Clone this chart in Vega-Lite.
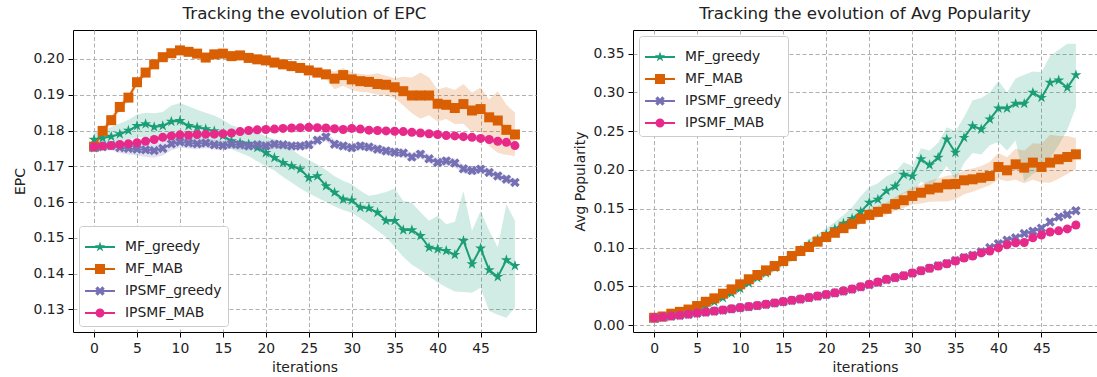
{
"$schema": "https://vega.github.io/schema/vega-lite/v6.json",
"padding": {"left": 12, "top": 5, "right": 1, "bottom": 2},
"config": {
  "font": "DejaVu Sans",
  "view": {"stroke": "black", "strokeWidth": 1},
  "axis": {"grid": true, "gridColor": "#b0b0b0", "gridDash": [4, 2.5], "gridWidth": 1, "domain": false, "tickColor": "black", "tickSize": 5, "tickWidth": 1, "labelFontSize": 13.9, "labelColor": "#222", "titleFontSize": 13.9, "titleFontWeight": "normal", "titleColor": "#222", "labelPadding": 4, "titlePadding": 6, "labelFont": "DejaVu Sans", "titleFont": "DejaVu Sans", "labelOverlap": false},
  "title": {"fontSize": 16.7, "fontWeight": "normal", "font": "DejaVu Sans", "color": "#222", "offset": 7},
  "legend": {"title": null, "offset": 6, "fillColor": "white", "strokeColor": "#cccccc", "cornerRadius": 3, "padding": 6, "rowPadding": 0, "labelFontSize": 13.9, "labelColor": "#222", "labelOffset": 10, "symbolSize": 900, "symbolStrokeWidth": 0, "symbolOpacity": 1, "labelFont": "DejaVu Sans"}
},
"datasets": {
"epc": [
{"s":"MF_greedy","i":0,"m":0.1775,"lo":0.1755,"hi":0.1795},
{"s":"MF_greedy","i":1,"m":0.1779,"lo":0.1763,"hi":0.18},
{"s":"MF_greedy","i":2,"m":0.1783,"lo":0.1766,"hi":0.181},
{"s":"MF_greedy","i":3,"m":0.179,"lo":0.177,"hi":0.182},
{"s":"MF_greedy","i":4,"m":0.18,"lo":0.1774,"hi":0.183},
{"s":"MF_greedy","i":5,"m":0.1813,"lo":0.178,"hi":0.1845},
{"s":"MF_greedy","i":6,"m":0.1818,"lo":0.1782,"hi":0.185},
{"s":"MF_greedy","i":7,"m":0.181,"lo":0.1778,"hi":0.1848},
{"s":"MF_greedy","i":8,"m":0.1813,"lo":0.1778,"hi":0.1852},
{"s":"MF_greedy","i":9,"m":0.1825,"lo":0.1776,"hi":0.187},
{"s":"MF_greedy","i":10,"m":0.1827,"lo":0.1774,"hi":0.1877},
{"s":"MF_greedy","i":11,"m":0.1813,"lo":0.177,"hi":0.1868},
{"s":"MF_greedy","i":12,"m":0.1809,"lo":0.1766,"hi":0.1858},
{"s":"MF_greedy","i":13,"m":0.1804,"lo":0.1765,"hi":0.185},
{"s":"MF_greedy","i":14,"m":0.1799,"lo":0.1764,"hi":0.1842},
{"s":"MF_greedy","i":15,"m":0.1785,"lo":0.1758,"hi":0.183},
{"s":"MF_greedy","i":16,"m":0.1771,"lo":0.1748,"hi":0.1815},
{"s":"MF_greedy","i":17,"m":0.1766,"lo":0.1738,"hi":0.1808},
{"s":"MF_greedy","i":18,"m":0.1762,"lo":0.1728,"hi":0.18},
{"s":"MF_greedy","i":19,"m":0.1752,"lo":0.1714,"hi":0.1793},
{"s":"MF_greedy","i":20,"m":0.1738,"lo":0.17,"hi":0.1785},
{"s":"MF_greedy","i":21,"m":0.1724,"lo":0.1688,"hi":0.1775},
{"s":"MF_greedy","i":22,"m":0.171,"lo":0.167,"hi":0.176},
{"s":"MF_greedy","i":23,"m":0.1701,"lo":0.1655,"hi":0.1748},
{"s":"MF_greedy","i":24,"m":0.1692,"lo":0.1638,"hi":0.173},
{"s":"MF_greedy","i":25,"m":0.1668,"lo":0.1625,"hi":0.1718},
{"s":"MF_greedy","i":26,"m":0.1673,"lo":0.1612,"hi":0.1705},
{"s":"MF_greedy","i":27,"m":0.1645,"lo":0.16,"hi":0.169},
{"s":"MF_greedy","i":28,"m":0.1627,"lo":0.1588,"hi":0.1672},
{"s":"MF_greedy","i":29,"m":0.1608,"lo":0.1578,"hi":0.166},
{"s":"MF_greedy","i":30,"m":0.1605,"lo":0.157,"hi":0.165},
{"s":"MF_greedy","i":31,"m":0.1585,"lo":0.1555,"hi":0.1632},
{"s":"MF_greedy","i":32,"m":0.1583,"lo":0.1538,"hi":0.1618},
{"s":"MF_greedy","i":33,"m":0.1571,"lo":0.152,"hi":0.1622},
{"s":"MF_greedy","i":34,"m":0.1548,"lo":0.1502,"hi":0.1628},
{"s":"MF_greedy","i":35,"m":0.1548,"lo":0.1475,"hi":0.1638},
{"s":"MF_greedy","i":36,"m":0.1522,"lo":0.1447,"hi":0.1603},
{"s":"MF_greedy","i":37,"m":0.1522,"lo":0.1425,"hi":0.1598},
{"s":"MF_greedy","i":38,"m":0.1506,"lo":0.141,"hi":0.1572},
{"s":"MF_greedy","i":39,"m":0.1473,"lo":0.1392,"hi":0.1548},
{"s":"MF_greedy","i":40,"m":0.1469,"lo":0.1375,"hi":0.1562},
{"s":"MF_greedy","i":41,"m":0.1464,"lo":0.1362,"hi":0.1538},
{"s":"MF_greedy","i":42,"m":0.1453,"lo":0.135,"hi":0.1545},
{"s":"MF_greedy","i":43,"m":0.1492,"lo":0.1349,"hi":0.1631},
{"s":"MF_greedy","i":44,"m":0.1427,"lo":0.1347,"hi":0.152},
{"s":"MF_greedy","i":45,"m":0.1471,"lo":0.1361,"hi":0.1575},
{"s":"MF_greedy","i":46,"m":0.141,"lo":0.1296,"hi":0.152},
{"s":"MF_greedy","i":47,"m":0.1391,"lo":0.1285,"hi":0.1474},
{"s":"MF_greedy","i":48,"m":0.1438,"lo":0.1277,"hi":0.1594},
{"s":"MF_greedy","i":49,"m":0.1422,"lo":0.1305,"hi":0.1548},
{"s":"MF_MAB","i":0,"m":0.1755,"lo":0.1745,"hi":0.1765},
{"s":"MF_MAB","i":1,"m":0.1799,"lo":0.1789,"hi":0.1809},
{"s":"MF_MAB","i":2,"m":0.1829,"lo":0.1819,"hi":0.1839},
{"s":"MF_MAB","i":3,"m":0.1866,"lo":0.1856,"hi":0.1876},
{"s":"MF_MAB","i":4,"m":0.1892,"lo":0.1882,"hi":0.1902},
{"s":"MF_MAB","i":5,"m":0.1935,"lo":0.1925,"hi":0.1945},
{"s":"MF_MAB","i":6,"m":0.1962,"lo":0.1952,"hi":0.1972},
{"s":"MF_MAB","i":7,"m":0.1985,"lo":0.1976,"hi":0.1994},
{"s":"MF_MAB","i":8,"m":0.2005,"lo":0.1997,"hi":0.2013},
{"s":"MF_MAB","i":9,"m":0.2016,"lo":0.2008,"hi":0.2024},
{"s":"MF_MAB","i":10,"m":0.2024,"lo":0.2016,"hi":0.2034},
{"s":"MF_MAB","i":11,"m":0.202,"lo":0.2012,"hi":0.2028},
{"s":"MF_MAB","i":12,"m":0.2015,"lo":0.2007,"hi":0.2023},
{"s":"MF_MAB","i":13,"m":0.2004,"lo":0.1996,"hi":0.2012},
{"s":"MF_MAB","i":14,"m":0.2013,"lo":0.2005,"hi":0.2021},
{"s":"MF_MAB","i":15,"m":0.2015,"lo":0.2007,"hi":0.2023},
{"s":"MF_MAB","i":16,"m":0.2008,"lo":0.2,"hi":0.2016},
{"s":"MF_MAB","i":17,"m":0.201,"lo":0.2002,"hi":0.2018},
{"s":"MF_MAB","i":18,"m":0.2003,"lo":0.1995,"hi":0.2011},
{"s":"MF_MAB","i":19,"m":0.1999,"lo":0.1991,"hi":0.2007},
{"s":"MF_MAB","i":20,"m":0.1996,"lo":0.1984,"hi":0.2008},
{"s":"MF_MAB","i":21,"m":0.199,"lo":0.1978,"hi":0.2002},
{"s":"MF_MAB","i":22,"m":0.1985,"lo":0.1973,"hi":0.1997},
{"s":"MF_MAB","i":23,"m":0.198,"lo":0.1968,"hi":0.1992},
{"s":"MF_MAB","i":24,"m":0.1975,"lo":0.1963,"hi":0.1987},
{"s":"MF_MAB","i":25,"m":0.1968,"lo":0.1956,"hi":0.198},
{"s":"MF_MAB","i":26,"m":0.1962,"lo":0.195,"hi":0.1974},
{"s":"MF_MAB","i":27,"m":0.1957,"lo":0.1945,"hi":0.1969},
{"s":"MF_MAB","i":28,"m":0.1945,"lo":0.1915,"hi":0.1965},
{"s":"MF_MAB","i":29,"m":0.1955,"lo":0.1925,"hi":0.1975},
{"s":"MF_MAB","i":30,"m":0.1943,"lo":0.1913,"hi":0.1963},
{"s":"MF_MAB","i":31,"m":0.1938,"lo":0.1908,"hi":0.1958},
{"s":"MF_MAB","i":32,"m":0.1936,"lo":0.1906,"hi":0.1956},
{"s":"MF_MAB","i":33,"m":0.193,"lo":0.19,"hi":0.196},
{"s":"MF_MAB","i":34,"m":0.1928,"lo":0.1898,"hi":0.1953},
{"s":"MF_MAB","i":35,"m":0.1921,"lo":0.1891,"hi":0.1946},
{"s":"MF_MAB","i":36,"m":0.191,"lo":0.187,"hi":0.195},
{"s":"MF_MAB","i":37,"m":0.1898,"lo":0.1848,"hi":0.1948},
{"s":"MF_MAB","i":38,"m":0.1898,"lo":0.1833,"hi":0.1962},
{"s":"MF_MAB","i":39,"m":0.1898,"lo":0.1843,"hi":0.1948},
{"s":"MF_MAB","i":40,"m":0.1875,"lo":0.1825,"hi":0.1915},
{"s":"MF_MAB","i":41,"m":0.1872,"lo":0.1832,"hi":0.1922},
{"s":"MF_MAB","i":42,"m":0.1863,"lo":0.1818,"hi":0.1913},
{"s":"MF_MAB","i":43,"m":0.1874,"lo":0.1819,"hi":0.193},
{"s":"MF_MAB","i":44,"m":0.1856,"lo":0.1796,"hi":0.1906},
{"s":"MF_MAB","i":45,"m":0.186,"lo":0.1795,"hi":0.192},
{"s":"MF_MAB","i":46,"m":0.1837,"lo":0.1757,"hi":0.1887},
{"s":"MF_MAB","i":47,"m":0.1828,"lo":0.1738,"hi":0.191},
{"s":"MF_MAB","i":48,"m":0.1802,"lo":0.1732,"hi":0.1872},
{"s":"MF_MAB","i":49,"m":0.1789,"lo":0.1729,"hi":0.185},
{"s":"IPSMF_greedy","i":0,"m":0.1752,"lo":0.1742,"hi":0.1762},
{"s":"IPSMF_greedy","i":1,"m":0.1755,"lo":0.1743,"hi":0.1767},
{"s":"IPSMF_greedy","i":2,"m":0.1758,"lo":0.1745,"hi":0.1771},
{"s":"IPSMF_greedy","i":3,"m":0.1752,"lo":0.1737,"hi":0.1767},
{"s":"IPSMF_greedy","i":4,"m":0.175,"lo":0.1733,"hi":0.1767},
{"s":"IPSMF_greedy","i":5,"m":0.1748,"lo":0.173,"hi":0.1766},
{"s":"IPSMF_greedy","i":6,"m":0.1746,"lo":0.1726,"hi":0.1766},
{"s":"IPSMF_greedy","i":7,"m":0.1744,"lo":0.1724,"hi":0.1764},
{"s":"IPSMF_greedy","i":8,"m":0.175,"lo":0.173,"hi":0.177},
{"s":"IPSMF_greedy","i":9,"m":0.1763,"lo":0.1745,"hi":0.1781},
{"s":"IPSMF_greedy","i":10,"m":0.1768,"lo":0.1752,"hi":0.1784},
{"s":"IPSMF_greedy","i":11,"m":0.1765,"lo":0.175,"hi":0.178},
{"s":"IPSMF_greedy","i":12,"m":0.1763,"lo":0.1748,"hi":0.1778},
{"s":"IPSMF_greedy","i":13,"m":0.1765,"lo":0.1751,"hi":0.1779},
{"s":"IPSMF_greedy","i":14,"m":0.176,"lo":0.1746,"hi":0.1774},
{"s":"IPSMF_greedy","i":15,"m":0.1758,"lo":0.1745,"hi":0.1771},
{"s":"IPSMF_greedy","i":16,"m":0.1762,"lo":0.1749,"hi":0.1775},
{"s":"IPSMF_greedy","i":17,"m":0.176,"lo":0.1747,"hi":0.1773},
{"s":"IPSMF_greedy","i":18,"m":0.1757,"lo":0.1745,"hi":0.1769},
{"s":"IPSMF_greedy","i":19,"m":0.176,"lo":0.1748,"hi":0.1772},
{"s":"IPSMF_greedy","i":20,"m":0.1757,"lo":0.1745,"hi":0.1769},
{"s":"IPSMF_greedy","i":21,"m":0.1762,"lo":0.175,"hi":0.1774},
{"s":"IPSMF_greedy","i":22,"m":0.176,"lo":0.1748,"hi":0.1772},
{"s":"IPSMF_greedy","i":23,"m":0.1757,"lo":0.1745,"hi":0.1769},
{"s":"IPSMF_greedy","i":24,"m":0.1757,"lo":0.1745,"hi":0.1769},
{"s":"IPSMF_greedy","i":25,"m":0.176,"lo":0.1748,"hi":0.1772},
{"s":"IPSMF_greedy","i":26,"m":0.1773,"lo":0.1761,"hi":0.1785},
{"s":"IPSMF_greedy","i":27,"m":0.1782,"lo":0.177,"hi":0.1794},
{"s":"IPSMF_greedy","i":28,"m":0.1762,"lo":0.175,"hi":0.1774},
{"s":"IPSMF_greedy","i":29,"m":0.1757,"lo":0.1745,"hi":0.1769},
{"s":"IPSMF_greedy","i":30,"m":0.1752,"lo":0.174,"hi":0.1764},
{"s":"IPSMF_greedy","i":31,"m":0.1757,"lo":0.1745,"hi":0.1769},
{"s":"IPSMF_greedy","i":32,"m":0.1754,"lo":0.1742,"hi":0.1766},
{"s":"IPSMF_greedy","i":33,"m":0.1748,"lo":0.1736,"hi":0.176},
{"s":"IPSMF_greedy","i":34,"m":0.1743,"lo":0.1731,"hi":0.1755},
{"s":"IPSMF_greedy","i":35,"m":0.1739,"lo":0.1727,"hi":0.1751},
{"s":"IPSMF_greedy","i":36,"m":0.1737,"lo":0.1725,"hi":0.1749},
{"s":"IPSMF_greedy","i":37,"m":0.1726,"lo":0.1714,"hi":0.1738},
{"s":"IPSMF_greedy","i":38,"m":0.1734,"lo":0.1722,"hi":0.1746},
{"s":"IPSMF_greedy","i":39,"m":0.1721,"lo":0.1709,"hi":0.1733},
{"s":"IPSMF_greedy","i":40,"m":0.1711,"lo":0.1699,"hi":0.1723},
{"s":"IPSMF_greedy","i":41,"m":0.1715,"lo":0.1703,"hi":0.1727},
{"s":"IPSMF_greedy","i":42,"m":0.1709,"lo":0.1697,"hi":0.1721},
{"s":"IPSMF_greedy","i":43,"m":0.1693,"lo":0.1681,"hi":0.1705},
{"s":"IPSMF_greedy","i":44,"m":0.1688,"lo":0.1676,"hi":0.17},
{"s":"IPSMF_greedy","i":45,"m":0.1692,"lo":0.168,"hi":0.1704},
{"s":"IPSMF_greedy","i":46,"m":0.1683,"lo":0.1672,"hi":0.1694},
{"s":"IPSMF_greedy","i":47,"m":0.1673,"lo":0.1662,"hi":0.1684},
{"s":"IPSMF_greedy","i":48,"m":0.1664,"lo":0.1653,"hi":0.1675},
{"s":"IPSMF_greedy","i":49,"m":0.1655,"lo":0.1644,"hi":0.1666},
{"s":"IPSMF_MAB","i":0,"m":0.1755,"lo":0.1748,"hi":0.1762},
{"s":"IPSMF_MAB","i":1,"m":0.1757,"lo":0.175,"hi":0.1764},
{"s":"IPSMF_MAB","i":2,"m":0.1758,"lo":0.1751,"hi":0.1765},
{"s":"IPSMF_MAB","i":3,"m":0.1761,"lo":0.1754,"hi":0.1768},
{"s":"IPSMF_MAB","i":4,"m":0.1763,"lo":0.1756,"hi":0.177},
{"s":"IPSMF_MAB","i":5,"m":0.1766,"lo":0.1759,"hi":0.1773},
{"s":"IPSMF_MAB","i":6,"m":0.177,"lo":0.1763,"hi":0.1777},
{"s":"IPSMF_MAB","i":7,"m":0.1775,"lo":0.1768,"hi":0.1782},
{"s":"IPSMF_MAB","i":8,"m":0.1781,"lo":0.1774,"hi":0.1788},
{"s":"IPSMF_MAB","i":9,"m":0.1785,"lo":0.1778,"hi":0.1792},
{"s":"IPSMF_MAB","i":10,"m":0.1788,"lo":0.1781,"hi":0.1795},
{"s":"IPSMF_MAB","i":11,"m":0.1787,"lo":0.178,"hi":0.1794},
{"s":"IPSMF_MAB","i":12,"m":0.1789,"lo":0.1782,"hi":0.1796},
{"s":"IPSMF_MAB","i":13,"m":0.179,"lo":0.1783,"hi":0.1797},
{"s":"IPSMF_MAB","i":14,"m":0.179,"lo":0.1783,"hi":0.1797},
{"s":"IPSMF_MAB","i":15,"m":0.1791,"lo":0.1784,"hi":0.1798},
{"s":"IPSMF_MAB","i":16,"m":0.1793,"lo":0.1786,"hi":0.18},
{"s":"IPSMF_MAB","i":17,"m":0.1797,"lo":0.179,"hi":0.1804},
{"s":"IPSMF_MAB","i":18,"m":0.18,"lo":0.1793,"hi":0.1807},
{"s":"IPSMF_MAB","i":19,"m":0.1802,"lo":0.1795,"hi":0.1809},
{"s":"IPSMF_MAB","i":20,"m":0.1803,"lo":0.1796,"hi":0.181},
{"s":"IPSMF_MAB","i":21,"m":0.1804,"lo":0.1797,"hi":0.1811},
{"s":"IPSMF_MAB","i":22,"m":0.1806,"lo":0.1799,"hi":0.1813},
{"s":"IPSMF_MAB","i":23,"m":0.1807,"lo":0.18,"hi":0.1814},
{"s":"IPSMF_MAB","i":24,"m":0.1808,"lo":0.1801,"hi":0.1815},
{"s":"IPSMF_MAB","i":25,"m":0.1809,"lo":0.1802,"hi":0.1816},
{"s":"IPSMF_MAB","i":26,"m":0.1808,"lo":0.1801,"hi":0.1815},
{"s":"IPSMF_MAB","i":27,"m":0.1807,"lo":0.18,"hi":0.1814},
{"s":"IPSMF_MAB","i":28,"m":0.1805,"lo":0.1798,"hi":0.1812},
{"s":"IPSMF_MAB","i":29,"m":0.1803,"lo":0.1796,"hi":0.181},
{"s":"IPSMF_MAB","i":30,"m":0.1806,"lo":0.1799,"hi":0.1813},
{"s":"IPSMF_MAB","i":31,"m":0.1804,"lo":0.1797,"hi":0.1811},
{"s":"IPSMF_MAB","i":32,"m":0.1801,"lo":0.1794,"hi":0.1808},
{"s":"IPSMF_MAB","i":33,"m":0.18,"lo":0.1793,"hi":0.1807},
{"s":"IPSMF_MAB","i":34,"m":0.1799,"lo":0.1792,"hi":0.1806},
{"s":"IPSMF_MAB","i":35,"m":0.1798,"lo":0.1791,"hi":0.1805},
{"s":"IPSMF_MAB","i":36,"m":0.1797,"lo":0.179,"hi":0.1804},
{"s":"IPSMF_MAB","i":37,"m":0.1795,"lo":0.1788,"hi":0.1802},
{"s":"IPSMF_MAB","i":38,"m":0.1793,"lo":0.1786,"hi":0.18},
{"s":"IPSMF_MAB","i":39,"m":0.1791,"lo":0.1784,"hi":0.1798},
{"s":"IPSMF_MAB","i":40,"m":0.1789,"lo":0.1782,"hi":0.1796},
{"s":"IPSMF_MAB","i":41,"m":0.1786,"lo":0.1779,"hi":0.1793},
{"s":"IPSMF_MAB","i":42,"m":0.1785,"lo":0.1778,"hi":0.1792},
{"s":"IPSMF_MAB","i":43,"m":0.1783,"lo":0.1776,"hi":0.179},
{"s":"IPSMF_MAB","i":44,"m":0.1781,"lo":0.1774,"hi":0.1788},
{"s":"IPSMF_MAB","i":45,"m":0.1778,"lo":0.1771,"hi":0.1785},
{"s":"IPSMF_MAB","i":46,"m":0.1775,"lo":0.1768,"hi":0.1782},
{"s":"IPSMF_MAB","i":47,"m":0.177,"lo":0.1763,"hi":0.1777},
{"s":"IPSMF_MAB","i":48,"m":0.1767,"lo":0.176,"hi":0.1774},
{"s":"IPSMF_MAB","i":49,"m":0.1758,"lo":0.1751,"hi":0.1765}
],
"pop": [
{"s":"MF_greedy","i":0,"m":0.0094,"lo":0.0088,"hi":0.01},
{"s":"MF_greedy","i":1,"m":0.0105,"lo":0.0098,"hi":0.0112},
{"s":"MF_greedy","i":2,"m":0.0125,"lo":0.0116,"hi":0.0134},
{"s":"MF_greedy","i":3,"m":0.015,"lo":0.0138,"hi":0.0162},
{"s":"MF_greedy","i":4,"m":0.0175,"lo":0.0161,"hi":0.0189},
{"s":"MF_greedy","i":5,"m":0.021,"lo":0.0193,"hi":0.0227},
{"s":"MF_greedy","i":6,"m":0.025,"lo":0.023,"hi":0.027},
{"s":"MF_greedy","i":7,"m":0.03,"lo":0.0277,"hi":0.0323},
{"s":"MF_greedy","i":8,"m":0.035,"lo":0.0325,"hi":0.0375},
{"s":"MF_greedy","i":9,"m":0.041,"lo":0.038,"hi":0.044},
{"s":"MF_greedy","i":10,"m":0.047,"lo":0.0435,"hi":0.0505},
{"s":"MF_greedy","i":11,"m":0.054,"lo":0.0502,"hi":0.0578},
{"s":"MF_greedy","i":12,"m":0.061,"lo":0.0568,"hi":0.0652},
{"s":"MF_greedy","i":13,"m":0.067,"lo":0.0625,"hi":0.0715},
{"s":"MF_greedy","i":14,"m":0.074,"lo":0.069,"hi":0.079},
{"s":"MF_greedy","i":15,"m":0.081,"lo":0.0755,"hi":0.0865},
{"s":"MF_greedy","i":16,"m":0.088,"lo":0.082,"hi":0.094},
{"s":"MF_greedy","i":17,"m":0.096,"lo":0.0895,"hi":0.1025},
{"s":"MF_greedy","i":18,"m":0.104,"lo":0.097,"hi":0.111},
{"s":"MF_greedy","i":19,"m":0.11,"lo":0.103,"hi":0.1175},
{"s":"MF_greedy","i":20,"m":0.117,"lo":0.11,"hi":0.125},
{"s":"MF_greedy","i":21,"m":0.124,"lo":0.116,"hi":0.133},
{"s":"MF_greedy","i":22,"m":0.131,"lo":0.12,"hi":0.142},
{"s":"MF_greedy","i":23,"m":0.137,"lo":0.124,"hi":0.152},
{"s":"MF_greedy","i":24,"m":0.146,"lo":0.131,"hi":0.166},
{"s":"MF_greedy","i":25,"m":0.158,"lo":0.14,"hi":0.178},
{"s":"MF_greedy","i":26,"m":0.162,"lo":0.146,"hi":0.183},
{"s":"MF_greedy","i":27,"m":0.173,"lo":0.152,"hi":0.192},
{"s":"MF_greedy","i":28,"m":0.179,"lo":0.158,"hi":0.197},
{"s":"MF_greedy","i":29,"m":0.194,"lo":0.17,"hi":0.21},
{"s":"MF_greedy","i":30,"m":0.192,"lo":0.169,"hi":0.205},
{"s":"MF_greedy","i":31,"m":0.214,"lo":0.185,"hi":0.228},
{"s":"MF_greedy","i":32,"m":0.2065,"lo":0.178,"hi":0.225},
{"s":"MF_greedy","i":33,"m":0.216,"lo":0.19,"hi":0.235},
{"s":"MF_greedy","i":34,"m":0.2396,"lo":0.205,"hi":0.255},
{"s":"MF_greedy","i":35,"m":0.2224,"lo":0.186,"hi":0.25},
{"s":"MF_greedy","i":36,"m":0.2417,"lo":0.209,"hi":0.268},
{"s":"MF_greedy","i":37,"m":0.2568,"lo":0.222,"hi":0.29},
{"s":"MF_greedy","i":38,"m":0.2525,"lo":0.22,"hi":0.293},
{"s":"MF_greedy","i":39,"m":0.2654,"lo":0.232,"hi":0.3},
{"s":"MF_greedy","i":40,"m":0.2796,"lo":0.236,"hi":0.315},
{"s":"MF_greedy","i":41,"m":0.2796,"lo":0.225,"hi":0.3},
{"s":"MF_greedy","i":42,"m":0.2856,"lo":0.238,"hi":0.318},
{"s":"MF_greedy","i":43,"m":0.2856,"lo":0.185,"hi":0.323},
{"s":"MF_greedy","i":44,"m":0.2998,"lo":0.195,"hi":0.327},
{"s":"MF_greedy","i":45,"m":0.2933,"lo":0.2,"hi":0.326},
{"s":"MF_greedy","i":46,"m":0.3127,"lo":0.215,"hi":0.347},
{"s":"MF_greedy","i":47,"m":0.3157,"lo":0.232,"hi":0.355},
{"s":"MF_greedy","i":48,"m":0.3062,"lo":0.252,"hi":0.363},
{"s":"MF_greedy","i":49,"m":0.3226,"lo":0.281,"hi":0.363},
{"s":"MF_MAB","i":0,"m":0.0094,"lo":0.0088,"hi":0.01},
{"s":"MF_MAB","i":1,"m":0.011,"lo":0.0102,"hi":0.0118},
{"s":"MF_MAB","i":2,"m":0.0146,"lo":0.0136,"hi":0.0156},
{"s":"MF_MAB","i":3,"m":0.017,"lo":0.016,"hi":0.018},
{"s":"MF_MAB","i":4,"m":0.02,"lo":0.0188,"hi":0.0212},
{"s":"MF_MAB","i":5,"m":0.0245,"lo":0.0231,"hi":0.0259},
{"s":"MF_MAB","i":6,"m":0.03,"lo":0.0284,"hi":0.0316},
{"s":"MF_MAB","i":7,"m":0.0344,"lo":0.0326,"hi":0.0362},
{"s":"MF_MAB","i":8,"m":0.0404,"lo":0.0384,"hi":0.0424},
{"s":"MF_MAB","i":9,"m":0.046,"lo":0.0438,"hi":0.0482},
{"s":"MF_MAB","i":10,"m":0.0525,"lo":0.0501,"hi":0.0549},
{"s":"MF_MAB","i":11,"m":0.059,"lo":0.0564,"hi":0.0616},
{"s":"MF_MAB","i":12,"m":0.0645,"lo":0.0617,"hi":0.0673},
{"s":"MF_MAB","i":13,"m":0.0705,"lo":0.0675,"hi":0.0735},
{"s":"MF_MAB","i":14,"m":0.0761,"lo":0.0731,"hi":0.0791},
{"s":"MF_MAB","i":15,"m":0.0826,"lo":0.0794,"hi":0.0858},
{"s":"MF_MAB","i":16,"m":0.089,"lo":0.0856,"hi":0.0924},
{"s":"MF_MAB","i":17,"m":0.0955,"lo":0.0919,"hi":0.0991},
{"s":"MF_MAB","i":18,"m":0.1006,"lo":0.0966,"hi":0.1046},
{"s":"MF_MAB","i":19,"m":0.1075,"lo":0.1033,"hi":0.1117},
{"s":"MF_MAB","i":20,"m":0.1135,"lo":0.109,"hi":0.118},
{"s":"MF_MAB","i":21,"m":0.119,"lo":0.114,"hi":0.124},
{"s":"MF_MAB","i":22,"m":0.125,"lo":0.1195,"hi":0.1305},
{"s":"MF_MAB","i":23,"m":0.1305,"lo":0.1245,"hi":0.1365},
{"s":"MF_MAB","i":24,"m":0.137,"lo":0.1305,"hi":0.1435},
{"s":"MF_MAB","i":25,"m":0.142,"lo":0.135,"hi":0.149},
{"s":"MF_MAB","i":26,"m":0.146,"lo":0.1385,"hi":0.1535},
{"s":"MF_MAB","i":27,"m":0.15,"lo":0.142,"hi":0.158},
{"s":"MF_MAB","i":28,"m":0.156,"lo":0.147,"hi":0.165},
{"s":"MF_MAB","i":29,"m":0.161,"lo":0.151,"hi":0.171},
{"s":"MF_MAB","i":30,"m":0.1665,"lo":0.1555,"hi":0.1775},
{"s":"MF_MAB","i":31,"m":0.1707,"lo":0.1567,"hi":0.1807},
{"s":"MF_MAB","i":32,"m":0.175,"lo":0.159,"hi":0.186},
{"s":"MF_MAB","i":33,"m":0.1772,"lo":0.1592,"hi":0.1892},
{"s":"MF_MAB","i":34,"m":0.1815,"lo":0.1595,"hi":0.1925},
{"s":"MF_MAB","i":35,"m":0.182,"lo":0.162,"hi":0.194},
{"s":"MF_MAB","i":36,"m":0.1867,"lo":0.1687,"hi":0.1997},
{"s":"MF_MAB","i":37,"m":0.188,"lo":0.172,"hi":0.202},
{"s":"MF_MAB","i":38,"m":0.19,"lo":0.176,"hi":0.205},
{"s":"MF_MAB","i":39,"m":0.1922,"lo":0.1802,"hi":0.2102},
{"s":"MF_MAB","i":40,"m":0.2039,"lo":0.1879,"hi":0.2219},
{"s":"MF_MAB","i":41,"m":0.1996,"lo":0.1856,"hi":0.2166},
{"s":"MF_MAB","i":42,"m":0.2073,"lo":0.1873,"hi":0.2273},
{"s":"MF_MAB","i":43,"m":0.203,"lo":0.183,"hi":0.225},
{"s":"MF_MAB","i":44,"m":0.2095,"lo":0.1875,"hi":0.2345},
{"s":"MF_MAB","i":45,"m":0.2039,"lo":0.1839,"hi":0.2339},
{"s":"MF_MAB","i":46,"m":0.2095,"lo":0.1835,"hi":0.2455},
{"s":"MF_MAB","i":47,"m":0.2138,"lo":0.1888,"hi":0.2438},
{"s":"MF_MAB","i":48,"m":0.2168,"lo":0.1948,"hi":0.2438},
{"s":"MF_MAB","i":49,"m":0.2202,"lo":0.2012,"hi":0.2412},
{"s":"IPSMF_greedy","i":0,"m":0.009,"lo":0.0084,"hi":0.0096},
{"s":"IPSMF_greedy","i":1,"m":0.01,"lo":0.0093,"hi":0.0107},
{"s":"IPSMF_greedy","i":2,"m":0.0112,"lo":0.0105,"hi":0.0119},
{"s":"IPSMF_greedy","i":3,"m":0.0124,"lo":0.0116,"hi":0.0132},
{"s":"IPSMF_greedy","i":4,"m":0.0137,"lo":0.0129,"hi":0.0145},
{"s":"IPSMF_greedy","i":5,"m":0.0152,"lo":0.0143,"hi":0.0161},
{"s":"IPSMF_greedy","i":6,"m":0.0165,"lo":0.0156,"hi":0.0174},
{"s":"IPSMF_greedy","i":7,"m":0.0178,"lo":0.0169,"hi":0.0187},
{"s":"IPSMF_greedy","i":8,"m":0.0192,"lo":0.0183,"hi":0.0201},
{"s":"IPSMF_greedy","i":9,"m":0.0207,"lo":0.0197,"hi":0.0217},
{"s":"IPSMF_greedy","i":10,"m":0.0222,"lo":0.0212,"hi":0.0232},
{"s":"IPSMF_greedy","i":11,"m":0.0236,"lo":0.0226,"hi":0.0246},
{"s":"IPSMF_greedy","i":12,"m":0.025,"lo":0.024,"hi":0.026},
{"s":"IPSMF_greedy","i":13,"m":0.0266,"lo":0.0256,"hi":0.0276},
{"s":"IPSMF_greedy","i":14,"m":0.0283,"lo":0.0273,"hi":0.0293},
{"s":"IPSMF_greedy","i":15,"m":0.03,"lo":0.029,"hi":0.031},
{"s":"IPSMF_greedy","i":16,"m":0.0316,"lo":0.0305,"hi":0.0327},
{"s":"IPSMF_greedy","i":17,"m":0.0333,"lo":0.0322,"hi":0.0344},
{"s":"IPSMF_greedy","i":18,"m":0.0352,"lo":0.0341,"hi":0.0363},
{"s":"IPSMF_greedy","i":19,"m":0.0372,"lo":0.0361,"hi":0.0383},
{"s":"IPSMF_greedy","i":20,"m":0.0392,"lo":0.038,"hi":0.0404},
{"s":"IPSMF_greedy","i":21,"m":0.0413,"lo":0.0401,"hi":0.0425},
{"s":"IPSMF_greedy","i":22,"m":0.0437,"lo":0.0425,"hi":0.0449},
{"s":"IPSMF_greedy","i":23,"m":0.0462,"lo":0.045,"hi":0.0474},
{"s":"IPSMF_greedy","i":24,"m":0.0492,"lo":0.0479,"hi":0.0505},
{"s":"IPSMF_greedy","i":25,"m":0.052,"lo":0.0507,"hi":0.0533},
{"s":"IPSMF_greedy","i":26,"m":0.055,"lo":0.0537,"hi":0.0563},
{"s":"IPSMF_greedy","i":27,"m":0.0585,"lo":0.0571,"hi":0.0599},
{"s":"IPSMF_greedy","i":28,"m":0.061,"lo":0.0596,"hi":0.0624},
{"s":"IPSMF_greedy","i":29,"m":0.0635,"lo":0.0621,"hi":0.0649},
{"s":"IPSMF_greedy","i":30,"m":0.0668,"lo":0.0653,"hi":0.0683},
{"s":"IPSMF_greedy","i":31,"m":0.07,"lo":0.0685,"hi":0.0715},
{"s":"IPSMF_greedy","i":32,"m":0.0733,"lo":0.0718,"hi":0.0748},
{"s":"IPSMF_greedy","i":33,"m":0.0765,"lo":0.0749,"hi":0.0781},
{"s":"IPSMF_greedy","i":34,"m":0.0795,"lo":0.0779,"hi":0.0811},
{"s":"IPSMF_greedy","i":35,"m":0.0832,"lo":0.0815,"hi":0.0849},
{"s":"IPSMF_greedy","i":36,"m":0.087,"lo":0.0853,"hi":0.0887},
{"s":"IPSMF_greedy","i":37,"m":0.09,"lo":0.0882,"hi":0.0918},
{"s":"IPSMF_greedy","i":38,"m":0.0945,"lo":0.0927,"hi":0.0963},
{"s":"IPSMF_greedy","i":39,"m":0.1,"lo":0.0981,"hi":0.1019},
{"s":"IPSMF_greedy","i":40,"m":0.105,"lo":0.103,"hi":0.107},
{"s":"IPSMF_greedy","i":41,"m":0.1095,"lo":0.1075,"hi":0.1115},
{"s":"IPSMF_greedy","i":42,"m":0.1125,"lo":0.1104,"hi":0.1146},
{"s":"IPSMF_greedy","i":43,"m":0.118,"lo":0.1159,"hi":0.1201},
{"s":"IPSMF_greedy","i":44,"m":0.121,"lo":0.1188,"hi":0.1232},
{"s":"IPSMF_greedy","i":45,"m":0.125,"lo":0.1228,"hi":0.1272},
{"s":"IPSMF_greedy","i":46,"m":0.133,"lo":0.1307,"hi":0.1353},
{"s":"IPSMF_greedy","i":47,"m":0.1395,"lo":0.1372,"hi":0.1418},
{"s":"IPSMF_greedy","i":48,"m":0.1425,"lo":0.1401,"hi":0.1449},
{"s":"IPSMF_greedy","i":49,"m":0.1475,"lo":0.1451,"hi":0.1499},
{"s":"IPSMF_MAB","i":0,"m":0.0094,"lo":0.0088,"hi":0.01},
{"s":"IPSMF_MAB","i":1,"m":0.0104,"lo":0.0097,"hi":0.0111},
{"s":"IPSMF_MAB","i":2,"m":0.0115,"lo":0.0108,"hi":0.0122},
{"s":"IPSMF_MAB","i":3,"m":0.0127,"lo":0.012,"hi":0.0134},
{"s":"IPSMF_MAB","i":4,"m":0.014,"lo":0.0132,"hi":0.0148},
{"s":"IPSMF_MAB","i":5,"m":0.0155,"lo":0.0147,"hi":0.0163},
{"s":"IPSMF_MAB","i":6,"m":0.0168,"lo":0.016,"hi":0.0176},
{"s":"IPSMF_MAB","i":7,"m":0.018,"lo":0.0172,"hi":0.0188},
{"s":"IPSMF_MAB","i":8,"m":0.0195,"lo":0.0187,"hi":0.0203},
{"s":"IPSMF_MAB","i":9,"m":0.021,"lo":0.0202,"hi":0.0218},
{"s":"IPSMF_MAB","i":10,"m":0.0225,"lo":0.0217,"hi":0.0233},
{"s":"IPSMF_MAB","i":11,"m":0.0238,"lo":0.023,"hi":0.0246},
{"s":"IPSMF_MAB","i":12,"m":0.0252,"lo":0.0244,"hi":0.026},
{"s":"IPSMF_MAB","i":13,"m":0.0268,"lo":0.026,"hi":0.0276},
{"s":"IPSMF_MAB","i":14,"m":0.0285,"lo":0.0277,"hi":0.0293},
{"s":"IPSMF_MAB","i":15,"m":0.0302,"lo":0.0294,"hi":0.031},
{"s":"IPSMF_MAB","i":16,"m":0.0318,"lo":0.031,"hi":0.0326},
{"s":"IPSMF_MAB","i":17,"m":0.0335,"lo":0.0327,"hi":0.0343},
{"s":"IPSMF_MAB","i":18,"m":0.0355,"lo":0.0347,"hi":0.0363},
{"s":"IPSMF_MAB","i":19,"m":0.0375,"lo":0.0367,"hi":0.0383},
{"s":"IPSMF_MAB","i":20,"m":0.0395,"lo":0.0385,"hi":0.0405},
{"s":"IPSMF_MAB","i":21,"m":0.0415,"lo":0.0405,"hi":0.0425},
{"s":"IPSMF_MAB","i":22,"m":0.044,"lo":0.043,"hi":0.045},
{"s":"IPSMF_MAB","i":23,"m":0.0465,"lo":0.0455,"hi":0.0475},
{"s":"IPSMF_MAB","i":24,"m":0.0495,"lo":0.0485,"hi":0.0505},
{"s":"IPSMF_MAB","i":25,"m":0.0525,"lo":0.0513,"hi":0.0537},
{"s":"IPSMF_MAB","i":26,"m":0.0555,"lo":0.0543,"hi":0.0567},
{"s":"IPSMF_MAB","i":27,"m":0.059,"lo":0.0578,"hi":0.0602},
{"s":"IPSMF_MAB","i":28,"m":0.0612,"lo":0.06,"hi":0.0624},
{"s":"IPSMF_MAB","i":29,"m":0.0635,"lo":0.0623,"hi":0.0647},
{"s":"IPSMF_MAB","i":30,"m":0.067,"lo":0.0658,"hi":0.0682},
{"s":"IPSMF_MAB","i":31,"m":0.07,"lo":0.0688,"hi":0.0712},
{"s":"IPSMF_MAB","i":32,"m":0.0731,"lo":0.0719,"hi":0.0743},
{"s":"IPSMF_MAB","i":33,"m":0.076,"lo":0.0748,"hi":0.0772},
{"s":"IPSMF_MAB","i":34,"m":0.079,"lo":0.0778,"hi":0.0802},
{"s":"IPSMF_MAB","i":35,"m":0.0826,"lo":0.0814,"hi":0.0838},
{"s":"IPSMF_MAB","i":36,"m":0.0865,"lo":0.0853,"hi":0.0877},
{"s":"IPSMF_MAB","i":37,"m":0.0889,"lo":0.0877,"hi":0.0901},
{"s":"IPSMF_MAB","i":38,"m":0.093,"lo":0.0918,"hi":0.0942},
{"s":"IPSMF_MAB","i":39,"m":0.0955,"lo":0.0941,"hi":0.0969},
{"s":"IPSMF_MAB","i":40,"m":0.0995,"lo":0.0981,"hi":0.1009},
{"s":"IPSMF_MAB","i":41,"m":0.1035,"lo":0.1021,"hi":0.1049},
{"s":"IPSMF_MAB","i":42,"m":0.106,"lo":0.1046,"hi":0.1074},
{"s":"IPSMF_MAB","i":43,"m":0.1065,"lo":0.1051,"hi":0.1079},
{"s":"IPSMF_MAB","i":44,"m":0.1125,"lo":0.1111,"hi":0.1139},
{"s":"IPSMF_MAB","i":45,"m":0.116,"lo":0.1146,"hi":0.1174},
{"s":"IPSMF_MAB","i":46,"m":0.12,"lo":0.1185,"hi":0.1215},
{"s":"IPSMF_MAB","i":47,"m":0.1215,"lo":0.12,"hi":0.123},
{"s":"IPSMF_MAB","i":48,"m":0.124,"lo":0.1225,"hi":0.1255},
{"s":"IPSMF_MAB","i":49,"m":0.129,"lo":0.1275,"hi":0.1305}
]
},
"hconcat": [
{
  "width": 463, "height": 302,
  "title": "Tracking the evolution of EPC",
  "data": {"name": "epc"},
  "encoding": {
    "x": {"field": "i", "type": "quantitative", "scale": {"domain": [-2.45, 51.45], "nice": false, "zero": false}, "axis": {"title": "iterations", "values": [0,5,10,15,20,25,30,35,40,45], "labelFlush": false}},
    "y": {"field": "m", "type": "quantitative", "scale": {"domain": [0.1237, 0.2081], "nice": false, "zero": false}, "axis": {"title": "EPC", "values": [0.13,0.14,0.15,0.16,0.17,0.18,0.19,0.2], "format": ".2f"}},
    "color": {"field": "s", "type": "nominal", "scale": {"domain": ["MF_greedy","MF_MAB","IPSMF_greedy","IPSMF_MAB"], "range": ["#1b9e77","#d95f02","#7570b3","#e7298a"]}, "legend": {"orient": "bottom-left", "labelFontSize": 13.9, "rowPadding": 0}}
  },
  "layer": [
    {"transform": [{"filter": "false"}], "mark": {"type": "point", "filled": true, "opacity": 1, "size": 900},
     "encoding": {
       "shape": {"field": "s", "type": "nominal", "scale": {"domain": ["MF_greedy","MF_MAB","IPSMF_greedy","IPSMF_MAB"], "range": [
         "M-1,-0.07L1,-0.07L1,0.07L-1,0.07Z M0,-0.367L0.082,-0.113L0.349,-0.113L0.133,0.043L0.216,0.297L0,0.14L-0.216,0.297L-0.133,0.043L-0.349,-0.113L-0.082,-0.113Z",
         "M-1,-0.07L1,-0.07L1,0.07L-1,0.07Z M-0.333,-0.333L0.333,-0.333L0.333,0.333L-0.333,0.333Z",
         "M-1,-0.07L1,-0.07L1,0.07L-1,0.07Z M-0.158,-0.317L0,-0.158L0.158,-0.317L0.317,-0.158L0.158,0L0.317,0.158L0.158,0.317L0,0.158L-0.158,0.317L-0.317,0.158L-0.158,0L-0.317,-0.158Z",
         "M-1,-0.07L1,-0.07L1,0.07L-1,0.07Z M0.3,0A0.3,0.3 0 1,1 -0.3,0A0.3,0.3 0 1,1 0.3,0Z"]}, "legend": {"orient": "bottom-left", "labelFontSize": 13.9, "rowPadding": 0}}
     }},
    {"mark": {"type": "area", "fillOpacity": 0.2}, "encoding": {"y": {"field": "lo", "type": "quantitative", "scale": {"domain": [0.1237, 0.2081], "nice": false, "zero": false}, "axis": {"title": "EPC", "values": [0.13,0.14,0.15,0.16,0.17,0.18,0.19,0.2], "format": ".2f"}}, "y2": {"field": "hi"}}},
    {"mark": {"type": "line", "strokeWidth": 2}},
    {"transform": [{"filter": "datum.s == 'MF_greedy'"}], "mark": {"type": "point", "filled": true, "opacity": 1, "size": 100, "shape": "M0,-1.15L0.258,-0.355L1.094,-0.355L0.418,0.136L0.676,0.93L0,0.439L-0.676,0.93L-0.418,0.136L-1.094,-0.355L-0.258,-0.355Z"}},
    {"transform": [{"filter": "datum.s == 'MF_MAB'"}], "mark": {"type": "point", "filled": true, "opacity": 1, "size": 100, "shape": "square"}},
    {"transform": [{"filter": "datum.s == 'IPSMF_greedy'"}], "mark": {"type": "point", "filled": true, "opacity": 1, "size": 100, "shape": "M-0.475,-0.95L0,-0.475L0.475,-0.95L0.95,-0.475L0.475,0L0.95,0.475L0.475,0.95L0,0.475L-0.475,0.95L-0.95,0.475L-0.475,0L-0.95,-0.475Z"}},
    {"transform": [{"filter": "datum.s == 'IPSMF_MAB'"}], "mark": {"type": "point", "filled": true, "opacity": 1, "size": 81, "shape": "circle"}}
  ]
},
{
  "width": 464, "height": 302,
  "title": "Tracking the evolution of Avg Popularity",
  "data": {"name": "pop"},
  "encoding": {
    "x": {"field": "i", "type": "quantitative", "scale": {"domain": [-2.45, 51.45], "nice": false, "zero": false}, "axis": {"title": "iterations", "values": [0,5,10,15,20,25,30,35,40,45], "labelFlush": false}},
    "y": {"field": "m", "type": "quantitative", "scale": {"domain": [-0.009, 0.3806], "nice": false, "zero": false}, "axis": {"title": "Avg Popularity", "values": [0,0.05,0.1,0.15,0.2,0.25,0.3,0.35], "format": ".2f"}},
    "color": {"field": "s", "type": "nominal", "scale": {"domain": ["MF_greedy","MF_MAB","IPSMF_greedy","IPSMF_MAB"], "range": ["#1b9e77","#d95f02","#7570b3","#e7298a"]}, "legend": {"orient": "top-left", "labelFontSize": 13.9, "rowPadding": 0}}
  },
  "layer": [
    {"transform": [{"filter": "false"}], "mark": {"type": "point", "filled": true, "opacity": 1, "size": 900},
     "encoding": {
       "shape": {"field": "s", "type": "nominal", "scale": {"domain": ["MF_greedy","MF_MAB","IPSMF_greedy","IPSMF_MAB"], "range": [
         "M-1,-0.07L1,-0.07L1,0.07L-1,0.07Z M0,-0.367L0.082,-0.113L0.349,-0.113L0.133,0.043L0.216,0.297L0,0.14L-0.216,0.297L-0.133,0.043L-0.349,-0.113L-0.082,-0.113Z",
         "M-1,-0.07L1,-0.07L1,0.07L-1,0.07Z M-0.333,-0.333L0.333,-0.333L0.333,0.333L-0.333,0.333Z",
         "M-1,-0.07L1,-0.07L1,0.07L-1,0.07Z M-0.158,-0.317L0,-0.158L0.158,-0.317L0.317,-0.158L0.158,0L0.317,0.158L0.158,0.317L0,0.158L-0.158,0.317L-0.317,0.158L-0.158,0L-0.317,-0.158Z",
         "M-1,-0.07L1,-0.07L1,0.07L-1,0.07Z M0.3,0A0.3,0.3 0 1,1 -0.3,0A0.3,0.3 0 1,1 0.3,0Z"]}, "legend": {"orient": "top-left", "labelFontSize": 13.9, "rowPadding": 0}}
     }},
    {"mark": {"type": "area", "fillOpacity": 0.2}, "encoding": {"y": {"field": "lo", "type": "quantitative", "scale": {"domain": [-0.009, 0.3806], "nice": false, "zero": false}, "axis": {"title": "Avg Popularity", "values": [0,0.05,0.1,0.15,0.2,0.25,0.3,0.35], "format": ".2f"}}, "y2": {"field": "hi"}}},
    {"mark": {"type": "line", "strokeWidth": 2}},
    {"transform": [{"filter": "datum.s == 'MF_greedy'"}], "mark": {"type": "point", "filled": true, "opacity": 1, "size": 100, "shape": "M0,-1.15L0.258,-0.355L1.094,-0.355L0.418,0.136L0.676,0.93L0,0.439L-0.676,0.93L-0.418,0.136L-1.094,-0.355L-0.258,-0.355Z"}},
    {"transform": [{"filter": "datum.s == 'MF_MAB'"}], "mark": {"type": "point", "filled": true, "opacity": 1, "size": 100, "shape": "square"}},
    {"transform": [{"filter": "datum.s == 'IPSMF_greedy'"}], "mark": {"type": "point", "filled": true, "opacity": 1, "size": 100, "shape": "M-0.475,-0.95L0,-0.475L0.475,-0.95L0.95,-0.475L0.475,0L0.95,0.475L0.475,0.95L0,0.475L-0.475,0.95L-0.95,0.475L-0.475,0L-0.95,-0.475Z"}},
    {"transform": [{"filter": "datum.s == 'IPSMF_MAB'"}], "mark": {"type": "point", "filled": true, "opacity": 1, "size": 81, "shape": "circle"}}
  ]
}
],
"spacing": 35,
"resolve": {"scale": {"color": "independent", "shape": "independent"}}
}
